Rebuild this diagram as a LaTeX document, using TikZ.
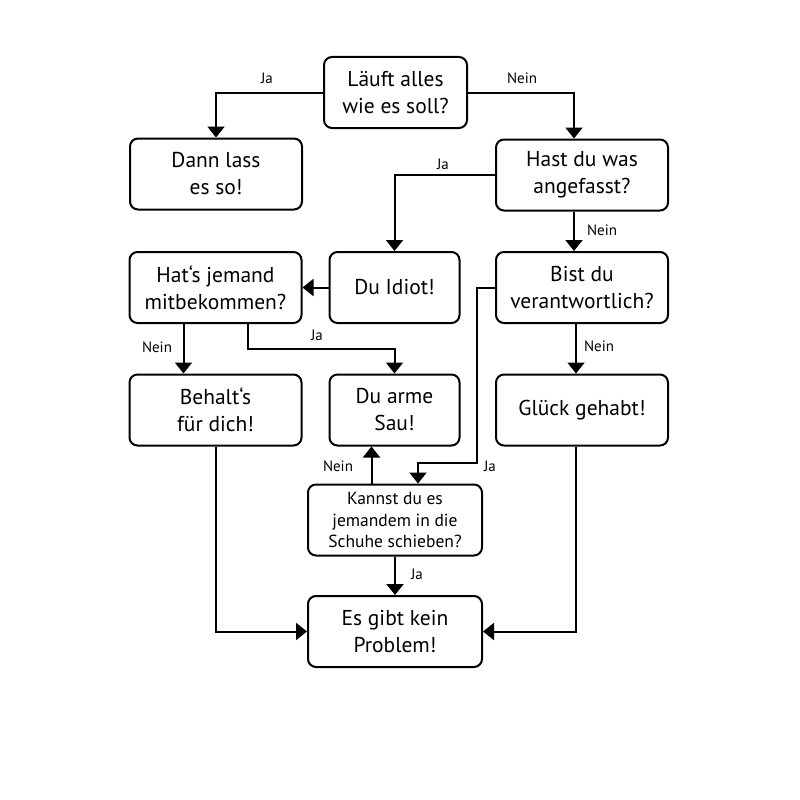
\documentclass[tikz,border=0pt]{standalone}
\usepackage{fontspec}
\setmainfont{PT Sans}
\usetikzlibrary{arrows.meta}
\begin{document}
\begin{tikzpicture}[x=1pt,y=-1pt,line cap=butt,line join=miter,>={Triangle[width=17pt,length=11pt]}]
	\tikzset{box/.style={draw,line width=2pt,rounded corners=8pt,fill=white,align=center,inner sep=0pt,
			minimum width=172pt,minimum height=71pt,font=\fontsize{21.5}{27}\selectfont},
		lbl/.style={font=\fontsize{15}{17}\selectfont},
		con/.style={->,line width=2pt}}
	\useasboundingbox (0,0) rectangle (800,800);
	\node[box,minimum width=143pt] (laeuft) at (395.5,92.5) {Läuft alles\\wie es soll?};
	\node[box] (dann) at (216,174) {Dann lass\\es so!};
	\node[box] (hast) at (582,175) {Hast du was\\angefasst?};
	\node[box,minimum width=130pt] (idiot) at (394.5,287.5) {Du Idiot!};
	\node[box] (hats) at (215.5,287.5) {Hat‘s jemand\\mitbekommen?};
	\node[box] (bist) at (582,287.5) {Bist du\\verantwortlich?};
	\node[box] (behalt) at (215.5,410) {Behalt‘s\\für dich!};
	\node[box,minimum width=130pt] (arme) at (394.5,410) {Du arme\\Sau!};
	\node[box] (glueck) at (582,410) {Glück gehabt!};
	\node[box,minimum width=174pt,font=\fontsize{17.5}{21.5}\selectfont] (kannst) at (395,520) {Kannst du es\\jemandem in die\\Schuhe schieben?};
	\node[box,minimum width=174pt] (problem) at (395,631.5) {Es gibt kein\\Problem!};
	\draw[con] (laeuft.west) -| (dann.north);
	\draw[con] (laeuft.east) -| ([xshift=-8]hast.north);
	\draw[con] (hast.west) -| (idiot.north);
	\draw[con] ([xshift=-8]hast.south) -- ([xshift=-8]bist.north);
	\draw[con] (idiot.west) -- (hats.east);
	\draw[con] ([xshift=-32]hats.south) -- ([xshift=-32]behalt.north);
	\draw[con] ([xshift=32]hats.south) -- ++(0,25) -| (arme.north);
	\draw[con] ([xshift=-6]bist.south) -- ([xshift=-6]glueck.north);
	\draw[con] (bist.west) -| (477,463) -| ([xshift=23]kannst.north);
	\draw[con] ([xshift=-23.5]kannst.north) -- ([xshift=-23]arme.south);
	\draw[con] (kannst.south) -- (problem.north);
	\draw[con] (behalt.south) |- (problem.west);
	\draw[con] ([xshift=-6]glueck.south) |- (problem.east);
	\node[lbl] (ja1) at (267,78) {Ja};
	\node[lbl] (nein1) at (522,78) {Nein};
	\node[lbl] (ja2) at (443,164) {Ja};
	\node[lbl] (nein2) at (602,230) {Nein};
	\node[lbl] (nein3) at (157,347) {Nein};
	\node[lbl] (ja3) at (317,335) {Ja};
	\node[lbl] (nein4) at (599,346) {Nein};
	\node[lbl] (ja4) at (490,466) {Ja};
	\node[lbl] (nein5) at (338,466) {Nein};
	\node[lbl] (ja5) at (417,574) {Ja};
\end{tikzpicture}
\end{document}
